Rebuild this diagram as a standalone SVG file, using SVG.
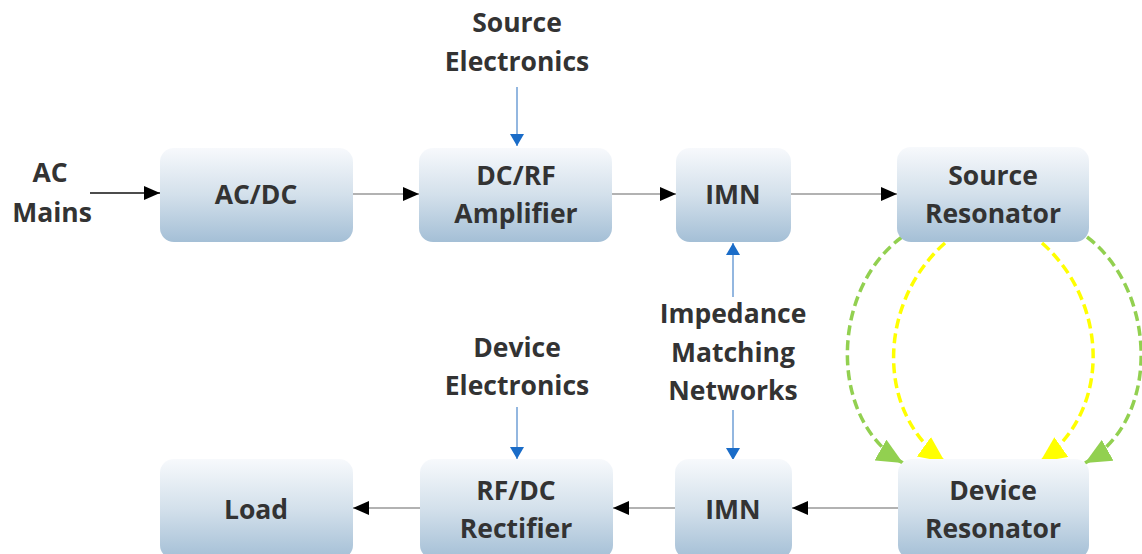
<svg xmlns="http://www.w3.org/2000/svg" width="1142" height="554" viewBox="0 0 1142 554">
<style>
.box{fill:url(#g);stroke:none}
.t{font-family:"Open Sans","Noto Sans","DejaVu Sans",sans-serif;font-weight:bold;font-size:26.5px;fill:#333;text-anchor:middle}
.k{stroke:#999;stroke-width:1.5;fill:none}
.kb{stroke:#111;stroke-width:1.5;fill:none}
.b{stroke:#6f9fd6;stroke-width:1.5;fill:none}
.gr{stroke:#92d050;stroke-width:3.5;fill:none;stroke-dasharray:10 5}
.ye{stroke:#ffff00;stroke-width:3.5;fill:none;stroke-dasharray:10 5}
</style>
<defs>
<linearGradient id="g" x1="0" y1="0" x2="0" y2="1">
<stop offset="0" stop-color="#f7f9fc"/>
<stop offset="0.5" stop-color="#d3e0eb"/>
<stop offset="1" stop-color="#a4bfd6"/>
</linearGradient>
<marker id="ab" markerWidth="16" markerHeight="14" refX="16" refY="7" orient="auto" markerUnits="userSpaceOnUse"><path d="M0,0 L16,7 L0,14 Z" fill="#000"/></marker>
<marker id="abl" markerWidth="12" markerHeight="14" refX="12" refY="7" orient="auto" markerUnits="userSpaceOnUse"><path d="M0,0 L12,7 L0,14 Z" fill="#1a6cc8"/></marker>
<marker id="agr" markerWidth="26" markerHeight="24" refX="26" refY="12" orient="auto" markerUnits="userSpaceOnUse"><path d="M0,0 L26,12 L0,24 Z" fill="#92d050"/></marker>
<marker id="aye" markerWidth="26" markerHeight="24" refX="26" refY="12" orient="auto" markerUnits="userSpaceOnUse"><path d="M0,0 L26,12 L0,24 Z" fill="#ffff00"/></marker>
</defs>
<rect width="1142" height="554" fill="#fff"/>
<g id="connectors">
<line class="kb" x1="90" y1="193" x2="160" y2="193" marker-end="url(#ab)"/>
<line class="k" x1="353" y1="194" x2="419" y2="194" marker-end="url(#ab)"/>
<line class="k" x1="612" y1="194" x2="676" y2="194" marker-end="url(#ab)"/>
<line class="k" x1="791" y1="194" x2="897" y2="194" marker-end="url(#ab)"/>
<line class="k" x1="898" y1="508" x2="792" y2="508" marker-end="url(#ab)"/>
<line class="k" x1="675" y1="508" x2="613" y2="508" marker-end="url(#ab)"/>
<line class="k" x1="420" y1="508" x2="353" y2="508" marker-end="url(#ab)"/>
<line class="b" x1="517" y1="87" x2="517" y2="146" marker-end="url(#abl)"/>
<line class="b" x1="733" y1="297" x2="733" y2="243" marker-end="url(#abl)"/>
<line class="b" x1="733" y1="410" x2="733" y2="460" marker-end="url(#abl)"/>
<line class="b" x1="517" y1="407" x2="517" y2="459" marker-end="url(#abl)"/>
<path class="gr" d="M902 237 C830 290 828 420 903 463" marker-end="url(#agr)"/>
<path class="ye" d="M945 243 C880 300 873 410 945 462" marker-end="url(#aye)"/>
<path class="ye" d="M1042 243 C1107 300 1114 410 1040 462" marker-end="url(#aye)"/>
<path class="gr" d="M1087 237 C1157 290 1162 420 1085 463" marker-end="url(#agr)"/>
</g>
<g id="ac-mains"><text class="t" x="50" y="182">AC</text><text class="t" x="52" y="222">Mains</text></g>
<g id="source-electronics"><text class="t" x="517" y="32">Source</text><text class="t" x="517" y="71">Electronics</text></g>
<g id="impedance-matching"><text class="t" x="733" y="323">Impedance</text><text class="t" x="733" y="362">Matching</text><text class="t" x="733" y="400">Networks</text></g>
<g id="device-electronics"><text class="t" x="517" y="357">Device</text><text class="t" x="517" y="395">Electronics</text></g>
<g id="acdc"><rect class="box" x="160" y="148" width="193" height="94" rx="14"/><text class="t" x="256" y="204">AC/DC</text></g>
<g id="dcrf"><rect class="box" x="419" y="148" width="193" height="94" rx="14"/><text class="t" x="516" y="185">DC/RF</text><text class="t" x="516" y="223">Amplifier</text></g>
<g id="imn-top"><rect class="box" x="676" y="148" width="115" height="94" rx="14"/><text class="t" x="733" y="204">IMN</text></g>
<g id="source-resonator"><rect class="box" x="897" y="147" width="192" height="95" rx="14"/><text class="t" x="993" y="185">Source</text><text class="t" x="993" y="223">Resonator</text></g>
<g id="load"><rect class="box" x="160" y="459" width="193" height="100" rx="14"/><text class="t" x="256" y="519">Load</text></g>
<g id="rfdc"><rect class="box" x="420" y="459" width="193" height="100" rx="14"/><text class="t" x="516" y="500">RF/DC</text><text class="t" x="516" y="538">Rectifier</text></g>
<g id="imn-bottom"><rect class="box" x="675" y="459" width="117" height="100" rx="14"/><text class="t" x="733" y="519">IMN</text></g>
<g id="device-resonator"><rect class="box" x="898" y="459" width="191" height="100" rx="14"/><text class="t" x="993" y="500">Device</text><text class="t" x="993" y="538">Resonator</text></g>
</svg>
